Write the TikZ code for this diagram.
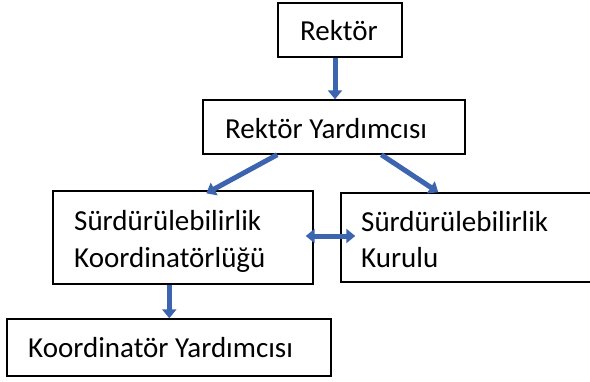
\documentclass[tikz,border=0pt]{standalone}
\usepackage{fontspec}
\setmainfont{Carlito}
\usetikzlibrary{arrows.meta}
\definecolor{arrblue}{RGB}{60,100,175}
\begin{document}
\begin{tikzpicture}[x=1pt,y=-1pt,
  box/.style={draw=black,line width=1.4pt,rectangle,inner sep=0pt},
  txt/.style={inner sep=0pt,anchor=base west,font=\fontsize{29}{34}\selectfont},
  barrow/.style={draw=arrblue,line width=5pt,-{Triangle[width=14pt,length=9pt]}},
  dbarrow/.style={draw=arrblue,line width=5pt,{Triangle[width=14pt,length=9pt]}-{Triangle[width=14pt,length=9pt]}}]
\useasboundingbox (0,0) rectangle (590,381);
\clip (0,0) rectangle (590,381);
% boxes
\node[box,minimum width=124pt,minimum height=54pt] (rektor) at (340,30) {};
\node[box,minimum width=262pt,minimum height=54pt] (ry) at (334,127) {};
\node[box,minimum width=260pt,minimum height=93pt] (sk) at (183,237.5) {};
\node[box,minimum width=270pt,minimum height=89pt] (kur) at (476,237.5) {};
\node[box,minimum width=324pt,minimum height=57pt] (ky) at (169,347.5) {};
% texts
\node[txt] (t1) at (300,40) {Rektör};
\node[txt] (t2) at (225,138) {Rektör Yardımcısı};
\node[txt] (t3) at (74,230) {Sürdürülebilirlik};
\node[txt] (t4) at (74,267) {Koordinatörlüğü};
\node[txt] (t5) at (361,231) {Sürdürülebilirlik};
\node[txt] (t6) at (361,267) {Kurulu};
\node[txt] (t7) at (28,357) {Koordinatör Yardımcısı};
% connectors
\coordinate (a1s) at ([xshift=-5pt]rektor.south);
\coordinate (a1e) at (a1s |- ry.north);
\draw[barrow] (a1s) -- (a1e);
\coordinate (a2s) at ([xshift=75pt]ry.south west);
\coordinate (a2e) at ([xshift=154pt,yshift=-3pt]sk.north west);
\draw[barrow] (a2s) -- (a2e);
\coordinate (a3s) at ([xshift=179pt]ry.south west);
\coordinate (a3e) at ([xshift=98pt]kur.north west);
\draw[barrow] (a3s) -- (a3e);
\coordinate (a4s) at ([xshift=-8pt,yshift=1.5pt]sk.east);
\coordinate (a4e) at ([xshift=15pt,yshift=1.5pt]kur.west);
\draw[dbarrow] (a4s) -- (a4e);
\coordinate (a5s) at ([xshift=117pt]sk.south west);
\coordinate (a5e) at (a5s |- ky.north);
\draw[barrow] (a5s) -- (a5e);
\end{tikzpicture}
\end{document}
